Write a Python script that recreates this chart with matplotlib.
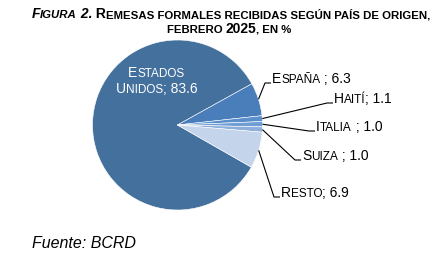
import numpy as np
import matplotlib
matplotlib.use("Agg")
import matplotlib.pyplot as plt

# datos
paises = ["Estados Unidos", "España", "Haití", "Italia", "Suiza", "Resto"]
valores = [83.6, 6.3, 1.1, 1.0, 1.0, 6.9]
separadores = ["; ", " ; ", "; ", " ; ", " ; ", "; "]
colores = ["#44709D", "#4A7EBB", "#5A8FCB", "#6F9ED4", "#8DAFDA", "#C4D4EB"]

W, H = 439, 259
plt.rcParams["font.family"] = ["Liberation Sans", "DejaVu Sans"]

fig = plt.figure(figsize=(W / 100, H / 100), dpi=100)
ax = fig.add_axes([0, 0, 1, 1])

cx, cy, r = 177.5, 125, 85
inicio = 29 + valores[0] / sum(valores) * 360
wedges, _ = ax.pie(valores, colors=colores, startangle=inicio, counterclock=False,
                   center=(cx, H - cy), radius=r,
                   wedgeprops=dict(edgecolor="white", linewidth=0.4))
ax.set_xlim(0, W)
ax.set_ylim(0, H)
ax.axis("off")

renderer = fig.canvas.get_renderer()


def piezas(lista, x, y, ha="left", color="black"):
    """Dibuja trozos de texto seguidos en coordenadas de pixel (y hacia abajo)."""
    arts = []
    for s, size, w, st in lista:
        t = fig.text(0, 0, s, fontsize=size, fontweight=w, fontstyle=st,
                     color=color, va="baseline", ha="left")
        arts.append(t)
    anchos = [t.get_window_extent(renderer).width for t in arts]
    total = sum(anchos)
    x0 = x - total / 2 if ha == "center" else x
    for t, a in zip(arts, anchos):
        t.set_position((x0 / W, 1 - y / H))
        x0 += a
    return arts


def versalitas(texto, big, small, w="normal", st="normal"):
    out = []
    for i, pal in enumerate(texto.split(" ")):
        pre = " " if i > 0 else ""
        out.append((pre + pal[0].upper(), big, w, st))
        if len(pal) > 1:
            out.append((pal[1:].upper(), small, w, st))
    return out


# titulo
bi, bo = "bold", "italic"
tg, tp = 10, 8.2
linea1 = versalitas("Figura", tg, tp, bi, bo) + [(" 2.", tg, bi, bo)] \
    + [(" R", tg, bi, "normal"),
       ("EMESAS FORMALES RECIBIDAS SEGÚN PAÍS DE ORIGEN,", tp, bi, "normal")]
piezas(linea1, 231, 18, ha="center")
linea2 = [("FEBRERO ", tp, bi, "normal"), ("2025", tg, bi, "normal"), (", EN %", tp, bi, "normal")]
piezas(linea2, 229, 33, ha="center")

# etiqueta principal dentro del pie
big, small = 10, 8.5
piezas(versalitas("Estados", big, small), 156, 77, ha="center", color="white")
piezas(versalitas("Unidos", big, small) + [(separadores[0] + f"{valores[0]:.1f}", big, "normal", "normal")],
       157, 93, ha="center", color="white")

# etiquetas externas con lineas guia
pos_etiquetas = [None, (265, 83), (327, 103), (309, 131), (295, 160), (274, 197)]
for i in range(1, len(paises)):
    wg = wedges[i]
    ang = np.deg2rad((wg.theta1 + wg.theta2) / 2)
    x0, y0 = cx + r * np.cos(ang), cy - r * np.sin(ang)
    ex, ey = pos_etiquetas[i]
    ax.plot([x0, ex, ex + 6], [H - y0, H - ey, H - ey], color="black", lw=0.8,
            solid_capstyle="butt")
    txt = versalitas(paises[i], big, small) + [(separadores[i] + f"{valores[i]:.1f}", big, "normal", "normal")]
    piezas(txt, ex + 7, ey)

fig.text(32 / W, 1 - 248 / H, "Fuente: BCRD", fontsize=11.5, fontstyle="italic", va="baseline")

fig.savefig("out.png", dpi=100)
